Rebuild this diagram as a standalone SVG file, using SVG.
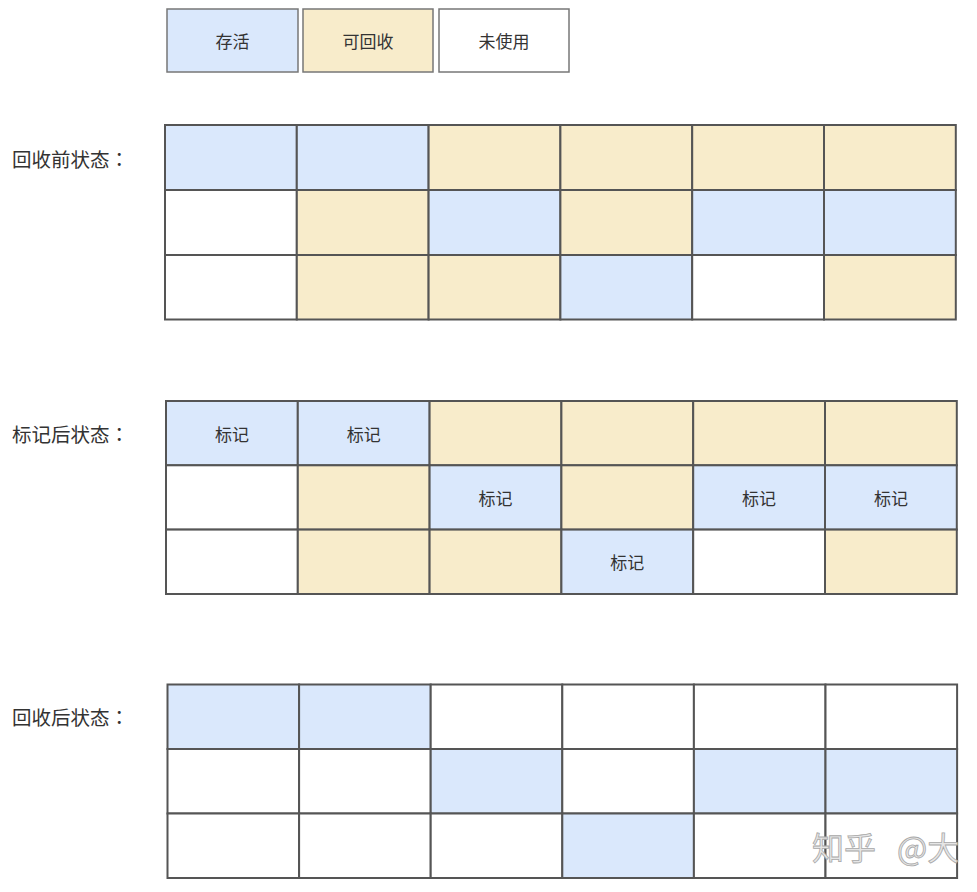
<svg xmlns="http://www.w3.org/2000/svg" width="977" height="892" viewBox="0 0 977 892">
<style>
  .t { font-family: "Noto Sans CJK SC", "Liberation Sans", sans-serif; fill: #333; dominant-baseline: central; text-anchor: middle; font-size: 17px; }
  .lbl { font-family: "Noto Sans CJK SC", "Liberation Sans", sans-serif; fill: #333; font-size: 19.5px; dominant-baseline: central; }
  .col { font-family: "Noto Sans CJK TC", "Noto Sans CJK SC", sans-serif; }
  .c { stroke: #555; stroke-width: 2; }
  .lg { stroke: #777; stroke-width: 1.5; }
  .b { fill: #dae8fc; }
  .y { fill: #f8eccb; }
  .w { fill: #ffffff; }
  .wm { font-family: "Noto Sans CJK SC", "Liberation Sans", sans-serif; font-size: 32px; fill: #e6e6e6; stroke: #a8a8a8; stroke-width: 0.8; }
</style>
<rect width="977" height="892" fill="#ffffff"/>
<g id="legend">
  <g id="legend-alive"><rect class="lg b" x="167" y="9" width="131" height="63"/><text class="t" x="232.5" y="40.5">存活</text></g>
  <g id="legend-recyclable"><rect class="lg y" x="303" y="9" width="130" height="63"/><text class="t" x="368" y="40.5">可回收</text></g>
  <g id="legend-unused"><rect class="lg w" x="439" y="9" width="130" height="63"/><text class="t" x="504" y="40.5">未使用</text></g>
</g>
<g id="labels">
  <text class="lbl" x="12" y="158">回收前状态<tspan class="col">：</tspan></text>
  <text class="lbl" x="12" y="433">标记后状态<tspan class="col">：</tspan></text>
  <text class="lbl" x="12" y="716">回收后状态<tspan class="col">：</tspan></text>
</g>
<g id="grid-before">
  <g id="g1-r1c1"><rect class="c b" x="165" y="125" width="131.8" height="65"/></g>
  <g id="g1-r1c2"><rect class="c b" x="296.8" y="125" width="131.8" height="65"/></g>
  <g id="g1-r1c3"><rect class="c y" x="428.6" y="125" width="131.8" height="65"/></g>
  <g id="g1-r1c4"><rect class="c y" x="560.4" y="125" width="131.8" height="65"/></g>
  <g id="g1-r1c5"><rect class="c y" x="692.2" y="125" width="131.8" height="65"/></g>
  <g id="g1-r1c6"><rect class="c y" x="824" y="125" width="131.8" height="65"/></g>
  <g id="g1-r2c1"><rect class="c w" x="165" y="190" width="131.8" height="65"/></g>
  <g id="g1-r2c2"><rect class="c y" x="296.8" y="190" width="131.8" height="65"/></g>
  <g id="g1-r2c3"><rect class="c b" x="428.6" y="190" width="131.8" height="65"/></g>
  <g id="g1-r2c4"><rect class="c y" x="560.4" y="190" width="131.8" height="65"/></g>
  <g id="g1-r2c5"><rect class="c b" x="692.2" y="190" width="131.8" height="65"/></g>
  <g id="g1-r2c6"><rect class="c b" x="824" y="190" width="131.8" height="65"/></g>
  <g id="g1-r3c1"><rect class="c w" x="165" y="255" width="131.8" height="64.5"/></g>
  <g id="g1-r3c2"><rect class="c y" x="296.8" y="255" width="131.8" height="64.5"/></g>
  <g id="g1-r3c3"><rect class="c y" x="428.6" y="255" width="131.8" height="64.5"/></g>
  <g id="g1-r3c4"><rect class="c b" x="560.4" y="255" width="131.8" height="64.5"/></g>
  <g id="g1-r3c5"><rect class="c w" x="692.2" y="255" width="131.8" height="64.5"/></g>
  <g id="g1-r3c6"><rect class="c y" x="824" y="255" width="131.8" height="64.5"/></g>
</g>
<g id="grid-marked">
  <g id="g2-r1c1"><rect class="c b" x="166" y="401" width="131.8" height="64.3"/><text class="t" x="231.9" y="433.2">标记</text></g>
  <g id="g2-r1c2"><rect class="c b" x="297.8" y="401" width="131.8" height="64.3"/><text class="t" x="363.7" y="433.2">标记</text></g>
  <g id="g2-r1c3"><rect class="c y" x="429.6" y="401" width="131.8" height="64.3"/></g>
  <g id="g2-r1c4"><rect class="c y" x="561.4" y="401" width="131.8" height="64.3"/></g>
  <g id="g2-r1c5"><rect class="c y" x="693.2" y="401" width="131.8" height="64.3"/></g>
  <g id="g2-r1c6"><rect class="c y" x="825" y="401" width="131.8" height="64.3"/></g>
  <g id="g2-r2c1"><rect class="c w" x="166" y="465.3" width="131.8" height="64.3"/></g>
  <g id="g2-r2c2"><rect class="c y" x="297.8" y="465.3" width="131.8" height="64.3"/></g>
  <g id="g2-r2c3"><rect class="c b" x="429.6" y="465.3" width="131.8" height="64.3"/><text class="t" x="495.5" y="497.5">标记</text></g>
  <g id="g2-r2c4"><rect class="c y" x="561.4" y="465.3" width="131.8" height="64.3"/></g>
  <g id="g2-r2c5"><rect class="c b" x="693.2" y="465.3" width="131.8" height="64.3"/><text class="t" x="759.1" y="497.5">标记</text></g>
  <g id="g2-r2c6"><rect class="c b" x="825" y="465.3" width="131.8" height="64.3"/><text class="t" x="890.9" y="497.5">标记</text></g>
  <g id="g2-r3c1"><rect class="c w" x="166" y="529.6" width="131.8" height="64.4"/></g>
  <g id="g2-r3c2"><rect class="c y" x="297.8" y="529.6" width="131.8" height="64.4"/></g>
  <g id="g2-r3c3"><rect class="c y" x="429.6" y="529.6" width="131.8" height="64.4"/></g>
  <g id="g2-r3c4"><rect class="c b" x="561.4" y="529.6" width="131.8" height="64.4"/><text class="t" x="627.3" y="561.8">标记</text></g>
  <g id="g2-r3c5"><rect class="c w" x="693.2" y="529.6" width="131.8" height="64.4"/></g>
  <g id="g2-r3c6"><rect class="c y" x="825" y="529.6" width="131.8" height="64.4"/></g>
</g>
<g id="grid-after">
  <g id="g3-r1c1"><rect class="c b" x="167.5" y="684.5" width="131.6" height="64.5"/></g>
  <g id="g3-r1c2"><rect class="c b" x="299.1" y="684.5" width="131.6" height="64.5"/></g>
  <g id="g3-r1c3"><rect class="c w" x="430.7" y="684.5" width="131.6" height="64.5"/></g>
  <g id="g3-r1c4"><rect class="c w" x="562.3" y="684.5" width="131.6" height="64.5"/></g>
  <g id="g3-r1c5"><rect class="c w" x="693.9" y="684.5" width="131.6" height="64.5"/></g>
  <g id="g3-r1c6"><rect class="c w" x="825.5" y="684.5" width="131.6" height="64.5"/></g>
  <g id="g3-r2c1"><rect class="c w" x="167.5" y="749" width="131.6" height="64.5"/></g>
  <g id="g3-r2c2"><rect class="c w" x="299.1" y="749" width="131.6" height="64.5"/></g>
  <g id="g3-r2c3"><rect class="c b" x="430.7" y="749" width="131.6" height="64.5"/></g>
  <g id="g3-r2c4"><rect class="c w" x="562.3" y="749" width="131.6" height="64.5"/></g>
  <g id="g3-r2c5"><rect class="c b" x="693.9" y="749" width="131.6" height="64.5"/></g>
  <g id="g3-r2c6"><rect class="c b" x="825.5" y="749" width="131.6" height="64.5"/></g>
  <g id="g3-r3c1"><rect class="c w" x="167.5" y="813.5" width="131.6" height="64.5"/></g>
  <g id="g3-r3c2"><rect class="c w" x="299.1" y="813.5" width="131.6" height="64.5"/></g>
  <g id="g3-r3c3"><rect class="c w" x="430.7" y="813.5" width="131.6" height="64.5"/></g>
  <g id="g3-r3c4"><rect class="c b" x="562.3" y="813.5" width="131.6" height="64.5"/></g>
  <g id="g3-r3c5"><rect class="c w" x="693.9" y="813.5" width="131.6" height="64.5"/></g>
  <g id="g3-r3c6"><rect class="c w" x="825.5" y="813.5" width="131.6" height="64.5"/></g>
</g>
<g id="connectors"/>
<text class="wm" x="812" y="860">知乎<tspan x="897">@大</tspan></text>
</svg>
